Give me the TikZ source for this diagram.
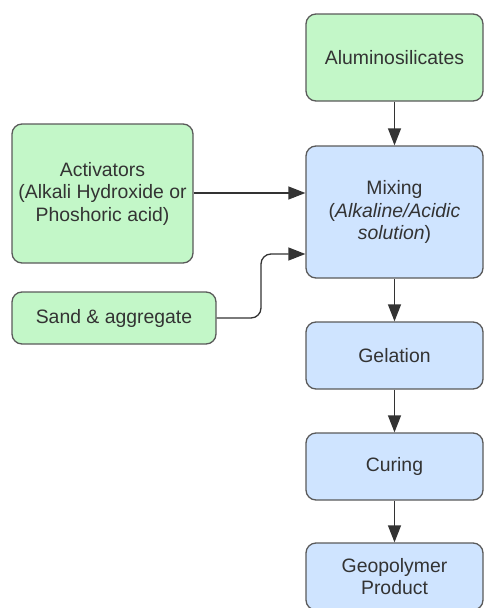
\documentclass[tikz,border=0pt]{standalone}
\usepackage{fontspec}
\setmainfont{Liberation Sans}
\usepackage{tikz}
\usetikzlibrary{arrows.meta}

\definecolor{boxgreen}{HTML}{C3F7C8}
\definecolor{boxblue}{HTML}{CFE4FF}
\definecolor{boxline}{HTML}{5A5A5A}
\definecolor{txtgray}{HTML}{333333}

\tikzset{
  flowbox/.style={draw=boxline, line width=1.3pt, rounded corners=10pt,
    align=center, text=txtgray, inner sep=0pt,
    font=\fontsize{19.4}{22.5}\selectfont},
  greenbox/.style={flowbox, fill=boxgreen},
  bluebox/.style={flowbox, fill=boxblue},
  flow/.style={draw=txtgray, line width=1.3pt,
    -{Triangle[length=17pt, width=13pt]}},
}

\begin{document}
\begin{tikzpicture}[x=1pt, y=-1pt]
    \clip (0, 0) rectangle (484, 608);

    % inputs
    \node[greenbox, minimum width=177pt, minimum height=87pt]
      (alum) at (394.5, 57.5) {Aluminosilicates};
    \node[greenbox, minimum width=181pt, minimum height=139pt]
      (act) at (102.5, 193.5) {Activators\\(Alkali Hydroxide or\\Phoshoric acid)};
    \node[greenbox, minimum width=204pt, minimum height=52pt]
      (sand) at (114, 318) {Sand \& aggregate};

    % process steps
    \node[bluebox, minimum width=177pt, minimum height=132pt]
      (mix) at (394.5, 212) {Mixing\\(\textit{Alkaline/Acidic}\\\textit{solution})};
    \node[bluebox, minimum width=177pt, minimum height=67pt]
      (gel) at (394.5, 355.5) {Gelation};
    \node[bluebox, minimum width=177pt, minimum height=67pt]
      (cur) at (394.5, 466.5) {Curing};
    \node[bluebox, minimum width=177pt, minimum height=67pt]
      (geo) at (394.5, 576.5) {Geopolymer\\Product};

    % connectors
    \draw[flow] (alum.south) -- (mix.north);
    \draw[flow] (act.east |- 0, 193) -- (mix.west |- 0, 193);
    \draw[flow, rounded corners=10pt]
      (sand.east) -| (261, 254) -- (mix.west |- 0, 254);
    \draw[flow] (mix.south) -- (gel.north);
    \draw[flow] (gel.south) -- (cur.north);
    \draw[flow] (cur.south) -- (geo.north);
\end{tikzpicture}
\end{document}
